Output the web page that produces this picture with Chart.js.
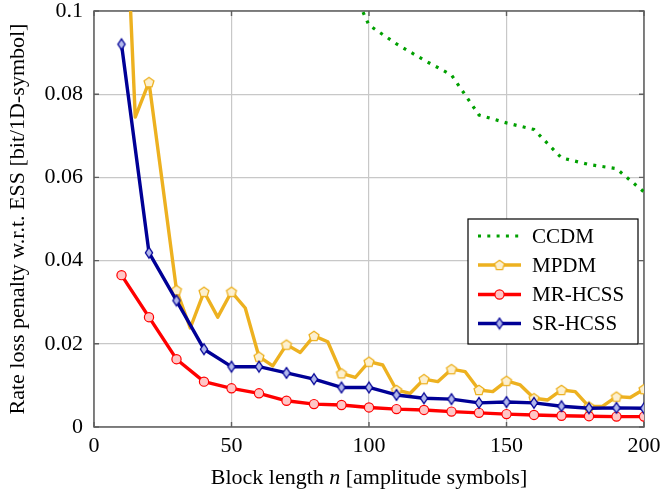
<!DOCTYPE html>
<html>
<head>
<meta charset="utf-8">
<script src="https://cdn.jsdelivr.net/npm/chart.js@4/dist/chart.umd.min.js"></script>
<style>
html,body{margin:0;padding:0;background:#fff;}
#wrap{width:662px;height:491px;position:relative;}
</style>
</head>
<body>
<div id="wrap"><canvas id="c" width="662" height="491"></canvas></div>
<script>
// ---- data ----
const xTicks = [0, 50, 100, 150, 200];
const yTicks = [0, 0.02, 0.04, 0.06, 0.08, 0.1];
const seriesNames = ['CCDM', 'MPDM', 'MR-HCSS', 'SR-HCSS'];

const nCCDM = [95, 100, 110, 120, 130, 140, 150, 160, 170, 180, 190, 200];
const ccdm  = [0.1038, 0.0966, 0.0921, 0.0882, 0.0846, 0.0750, 0.0731, 0.0715, 0.0647, 0.0631, 0.0621, 0.0565];

const nMPDM = [10,15,20,25,30,35,40,45,50,55,60,65,70,75,80,85,90,95,100,105,110,115,120,125,130,135,140,145,150,155,160,165,170,175,180,185,190,195,200];
const mpdm  = [0.150,0.0745,0.0829,0.0580,0.0329,0.0238,0.0325,0.0264,0.0325,0.0286,0.0169,0.0147,0.0198,0.0179,0.0219,0.0205,0.0129,0.0119,0.0157,0.0149,0.0089,0.0081,0.0115,0.0109,0.0139,0.0133,0.0089,0.0085,0.0111,0.0101,0.0069,0.0065,0.0089,0.0085,0.0049,0.0050,0.0073,0.0071,0.0091];

const nHCSS = [10,20,30,40,50,60,70,80,90,100,110,120,130,140,150,160,170,180,190,200];
const mrhcss = [0.0365,0.0264,0.0163,0.0109,0.0093,0.0081,0.0063,0.0055,0.0053,0.0047,0.0043,0.0041,0.0037,0.0034,0.0031,0.0029,0.0027,0.0026,0.0025,0.0025];
const srhcss = [0.0920,0.0419,0.0304,0.0187,0.0145,0.0145,0.0130,0.0115,0.0095,0.0095,0.0077,0.0069,0.0067,0.0058,0.0060,0.0058,0.0050,0.0045,0.0046,0.0045];

// ---- styles ----
const FONT = "'Liberation Serif', 'Times New Roman', serif";
const C_GREEN = 'rgb(0,160,0)';
const C_ORANGE = 'rgb(237,177,32)';
const C_ORANGE_FILL = 'rgb(252,240,208)';
const C_RED = 'rgb(255,0,0)';
const C_RED_FILL = 'rgb(255,198,198)';
const C_BLUE = 'rgb(0,0,150)';
const C_BLUE_FILL = 'rgb(178,184,236)';

function pentagon() {
  const cv = document.createElement('canvas');
  cv.width = 14; cv.height = 14;
  const g = cv.getContext('2d');
  const r = 5.2, cx = 7, cy = 7.4;
  g.beginPath();
  for (let i = 0; i < 5; i++) {
    const a = -Math.PI / 2 + i * 2 * Math.PI / 5;
    const px = cx + r * Math.cos(a), py = cy + r * Math.sin(a);
    i ? g.lineTo(px, py) : g.moveTo(px, py);
  }
  g.closePath();
  g.fillStyle = C_ORANGE_FILL; g.fill();
  g.strokeStyle = C_ORANGE; g.lineWidth = 1.3; g.stroke();
  return cv;
}
function diamond() {
  const cv = document.createElement('canvas');
  cv.width = 12; cv.height = 14;
  const g = cv.getContext('2d');
  g.beginPath();
  g.moveTo(6, 1.6); g.lineTo(9.6, 7); g.lineTo(6, 12.4); g.lineTo(2.4, 7); g.closePath();
  g.fillStyle = C_BLUE_FILL; g.fill();
  g.strokeStyle = C_BLUE; g.lineWidth = 1.3; g.stroke();
  return cv;
}
const PENT = pentagon();
const DIAM = diamond();

const pts = (xs, ys) => xs.map((x, i) => ({x: x, y: ys[i]}));

const datasets = [
  { label: seriesNames[0], data: pts(nCCDM, ccdm), borderColor: C_GREEN, borderWidth: 3.2,
    borderDash: [3, 6.3], borderCapStyle: 'butt', pointRadius: 0, order: 4, tension: 0 },
  { label: seriesNames[1], data: pts(nMPDM, mpdm), borderColor: C_ORANGE, borderWidth: 3.4,
    pointStyle: PENT, pointRadius: c => (c.raw && c.raw.x % 10 === 0 ? 5 : 0), order: 3, tension: 0,
    borderJoinStyle: 'round' },
  { label: seriesNames[2], data: pts(nHCSS, mrhcss), borderColor: C_RED, borderWidth: 3.4,
    pointStyle: 'circle', pointRadius: 4.6, pointBorderWidth: 1.2, pointBackgroundColor: C_RED_FILL,
    pointBorderColor: C_RED, order: 2, tension: 0, borderJoinStyle: 'round' },
  { label: seriesNames[3], data: pts(nHCSS, srhcss), borderColor: C_BLUE, borderWidth: 3.4,
    pointStyle: DIAM, pointRadius: 5, order: 1, tension: 0, borderJoinStyle: 'round' }
];

const L = 94, R = 644, T = 11, B = 427;
const TITLE_SIZE = 22, TICK_SIZE = 22, LEG_SIZE = 21;

const framePlugin = {
  id: 'frame',
  beforeDatasetsDraw(chart) {
    const ctx = chart.ctx, a = chart.chartArea;
    const xs = chart.scales.x, ys = chart.scales.y;
    ctx.save();
    ctx.strokeStyle = 'rgb(95,95,95)';
    ctx.lineWidth = 1.4;
    ctx.beginPath();
    xTicks.forEach(v => {
      const px = xs.getPixelForValue(v);
      ctx.moveTo(px, a.bottom); ctx.lineTo(px, a.bottom - 5);
      ctx.moveTo(px, a.top); ctx.lineTo(px, a.top + 5);
    });
    yTicks.forEach(v => {
      const py = ys.getPixelForValue(v);
      ctx.moveTo(a.left, py); ctx.lineTo(a.left + 5, py);
      ctx.moveTo(a.right, py); ctx.lineTo(a.right - 5, py);
    });
    ctx.stroke();
    ctx.lineWidth = 1.5;
    ctx.strokeRect(a.left, a.top, a.right - a.left, a.bottom - a.top);
    ctx.restore();
  },
  afterDraw(chart) {
    const ctx = chart.ctx, a = chart.chartArea;
    ctx.save();
    ctx.fillStyle = '#000';
    // y title
    ctx.font = TITLE_SIZE + 'px ' + FONT;
    ctx.translate(18, (a.top + a.bottom) / 2);
    ctx.rotate(-Math.PI / 2);
    ctx.textAlign = 'center';
    ctx.textBaseline = 'middle';
    ctx.fillText('Rate loss penalty w.r.t. ESS [bit/1D-symbol]', 0, 0);
    ctx.restore();

    // x title with italic n
    ctx.save();
    ctx.fillStyle = '#000';
    ctx.textBaseline = 'alphabetic';
    ctx.textAlign = 'left';
    const p1 = 'Block length ', p2 = 'n', p3 = ' [amplitude symbols]';
    const f = TITLE_SIZE + 'px ' + FONT, fi = 'italic ' + TITLE_SIZE + 'px ' + FONT;
    ctx.font = f; const w1 = ctx.measureText(p1).width, w3 = ctx.measureText(p3).width;
    ctx.font = fi; const w2 = ctx.measureText(p2).width;
    let x0 = (a.left + a.right) / 2 - (w1 + w2 + w3) / 2;
    const yb = 484;
    ctx.font = f; ctx.fillText(p1, x0, yb);
    ctx.font = fi; ctx.fillText(p2, x0 + w1, yb);
    ctx.font = f; ctx.fillText(p3, x0 + w1 + w2, yb);
    ctx.restore();

    // legend
    ctx.save();
    const bx = 468, by = 219, bw = 170, bh = 125;
    ctx.fillStyle = '#fff';
    ctx.fillRect(bx, by, bw, bh);
    ctx.strokeStyle = '#000';
    ctx.lineWidth = 1.2;
    ctx.strokeRect(bx, by, bw, bh);
    const rows = [236, 265, 294.5, 323.5];
    const x1 = 478, x2 = 521, xm = (x1 + x2) / 2;
    chart.data.datasets.forEach((ds, i) => {
      const y = rows[i];
      ctx.save();
      ctx.strokeStyle = ds.borderColor;
      ctx.lineWidth = ds.borderWidth;
      ctx.lineCap = 'butt';
      if (ds.borderDash) ctx.setLineDash(ds.borderDash);
      ctx.beginPath(); ctx.moveTo(x1, y); ctx.lineTo(x2, y); ctx.stroke();
      ctx.restore();
      if (i === 1) ctx.drawImage(PENT, xm - PENT.width / 2, y - PENT.height / 2);
      if (i === 3) ctx.drawImage(DIAM, xm - DIAM.width / 2, y - DIAM.height / 2);
      if (i === 2) {
        ctx.beginPath(); ctx.arc(xm, y, 4.6, 0, Math.PI * 2);
        ctx.fillStyle = C_RED_FILL; ctx.fill();
        ctx.strokeStyle = C_RED; ctx.lineWidth = 1.2; ctx.stroke();
      }
      ctx.fillStyle = '#000';
      ctx.font = LEG_SIZE + 'px ' + FONT;
      ctx.textAlign = 'left';
      ctx.textBaseline = 'middle';
      ctx.fillText(ds.label, 532, y + 1);
    });
    ctx.restore();
  }
};

new Chart(document.getElementById('c'), {
  type: 'line',
  data: { datasets: datasets },
  plugins: [framePlugin],
  options: {
    responsive: false,
    animation: false,
    devicePixelRatio: 1,
    layout: { padding: { left: 0, right: 662 - R, top: T, bottom: 0 } },
    plugins: { legend: { display: false }, tooltip: { enabled: false } },
    scales: {
      x: {
        type: 'linear', min: 0, max: 200,
        afterBuildTicks: s => { s.ticks = xTicks.map(v => ({value: v})); },
        afterFit: s => { s.height = 491 - B; s.paddingLeft = 0; s.paddingRight = 0; },
        grid: { color: 'rgb(200,200,200)', lineWidth: 1.2, drawTicks: false },
        border: { display: false },
        ticks: { color: '#000', font: { family: FONT, size: TICK_SIZE }, padding: 6, maxRotation: 0,
                 callback: v => String(v) }
      },
      y: {
        type: 'linear', min: 0, max: 0.1,
        afterBuildTicks: s => { s.ticks = yTicks.map(v => ({value: v})); },
        afterFit: s => { s.width = L; s.paddingTop = 0; s.paddingBottom = 0; },
        grid: { color: 'rgb(200,200,200)', lineWidth: 1.2, drawTicks: false },
        border: { display: false },
        ticks: { color: '#000', font: { family: FONT, size: TICK_SIZE }, padding: 11,
                 callback: v => String(Number(v.toFixed(2))) }
      }
    }
  }
});
</script>
</body>
</html>
